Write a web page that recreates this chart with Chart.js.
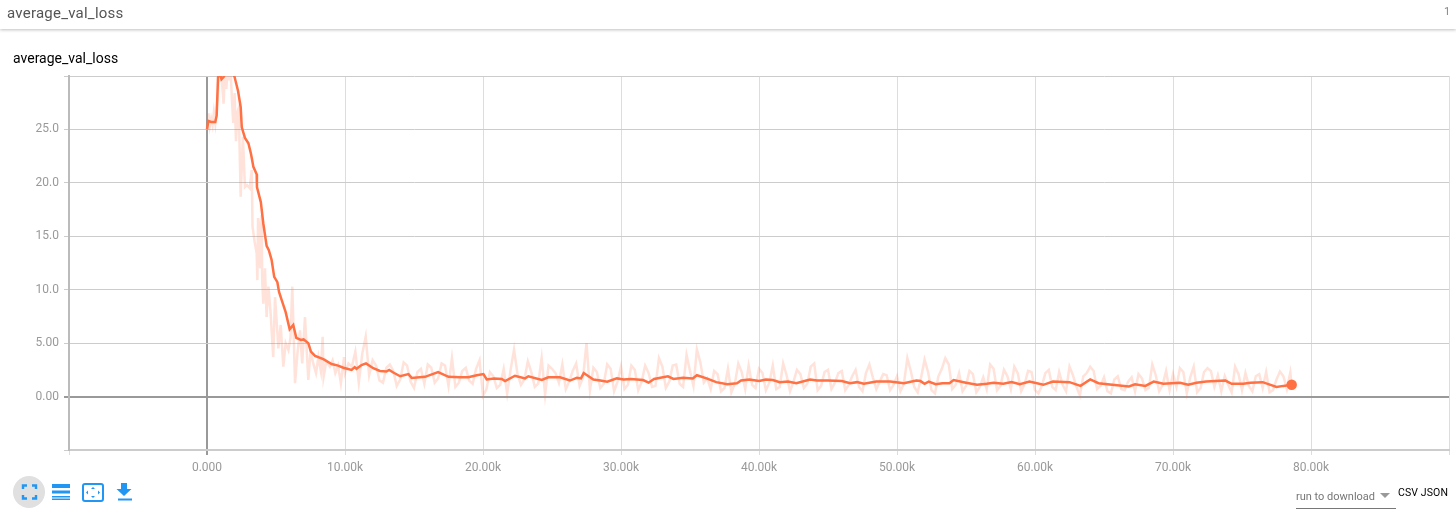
<!DOCTYPE html>
<html>
<head>
<meta charset="utf-8">
<title>average_val_loss</title>
<script src="https://cdn.jsdelivr.net/npm/chart.js@4/dist/chart.umd.min.js"></script>
<style>
  html, body { margin: 0; padding: 0; width: 1456px; height: 519px; overflow: hidden; background: #fff; font-family: Roboto, sans-serif; }
  #chart { position: absolute; left: 0; top: 0; }
  .txt { position: absolute; white-space: nowrap; }
  #bar { position: absolute; left: 0; top: 0; width: 1456px; height: 29px; background: #fff; box-shadow: 0 1px 3px rgba(0,0,0,.25); }
  #icons { position: absolute; left: 0; top: 470px; }
</style>
</head>
<body>
<canvas id="chart" width="1456" height="519"></canvas>
<div id="bar"></div>
<div class="txt" style="left:7px;top:4px;font-size:15px;color:#555;letter-spacing:.24px">average_val_loss</div>
<div class="txt" style="left:1444px;top:5px;font-size:11px;color:#888">1</div>
<div class="txt" style="left:13px;top:50px;font-size:14px;color:#000">average_val_loss</div>
<svg id="icons" width="140" height="45" viewBox="0 470 140 45">
  <circle cx="29" cy="492" r="16" fill="#e0e0e0"/>
  <path d="M23 489v-3.500h4M32 485.500h4v3.500M36 495v3.500h-4M27 498.500h-4v-3.500" fill="none" stroke="#2196f3" stroke-width="2.400"/>
  <path d="M52 484h18v4h-18zM52 490.500h18v3h-18zM52 496h18v1.500h-18zM52 498.500h18v1.500h-18z" fill="#2196f3"/>
  <rect x="83" y="484" width="20" height="17" rx="2" fill="none" stroke="#2196f3" stroke-width="2"/>
  <path d="M93 487l2 2h-4zM93 498l2-2h-4zM86 492.500l2-2v4zM100 492.500l-2-2v4z" fill="#2196f3"/>
  <path d="M121 483h6v6h4.500l-7.500 7-7.500-7h4.500zM118 498.500h14v2h-14z" fill="#2196f3"/>
</svg>
<div class="txt" style="left:1296px;top:490px;font-size:11px;color:#777">run to download</div>
<svg style="position:absolute;left:1379px;top:492px" width="12" height="8"><path d="M1 1h10l-5 5z" fill="#999"/></svg>
<div style="position:absolute;left:1296px;top:508px;width:100px;height:1px;background:#777"></div>
<div class="txt" style="left:1398px;top:486px;font-size:10.500px;color:#000;letter-spacing:.12px">CSV JSON</div>
<script>
// steps are in thousands
const rawSteps = [
  0,0.1,0.2,0.3,0.4,0.5,0.6,0.7,0.8,0.9,1.0,1.1,1.2,1.3,1.4,1.5,1.6,1.7,1.8,1.9,2.0,2.1,2.2,2.3,2.44,2.6,2.75,2.9,3.1,3.24,3.3,3.45,3.6,3.65,3.7,3.8,3.85,3.96,4.0,4.08,4.2,4.32,4.45,4.6,4.8,4.93,5.05,5.17,5.34,5.53,5.7,5.9,6.05,6.18,6.38,6.55,6.74,6.9,7.1,7.34,7.5,7.7,7.9,8.07,8.25,8.38,8.45,8.65,8.9,9.1,9.3,9.5,9.7,9.93,
  10,10.25,10.5,10.75,11,11.25,11.5,11.75,12,12.25,12.5,12.75,
  13,13.25,13.5,13.75,14,14.25,14.5,14.75,15,15.25,15.5,15.75,
  16,16.25,16.5,16.75,17,17.25,17.5,17.75,18,18.25,18.5,18.75,
  19,19.25,19.5,19.75,20,20.25,20.5,20.75,21,21.25,21.5,21.75,
  22,22.25,22.5,22.75,23,23.25,23.5,23.75,24,24.25,24.5,24.75,
  25,25.25,25.5,25.75,26,26.25,26.5,26.75,27,27.25,27.5,27.75,
  28,28.25,28.5,28.75,29,29.25,29.5,29.75,30,30.25,30.5,30.75,
  31,31.25,31.5,31.75,32,32.25,32.5,32.75,33,33.25,33.5,33.75,
  34,34.25,34.5,34.75,35,35.25,35.5,35.75,36,36.25,36.5,36.75,
  37,37.25,37.5,37.75,38,38.25,38.5,38.75,39,39.25,39.5,39.75,
  40,40.25,40.5,40.75,41,41.25,41.5,41.75,42,42.25,42.5,42.75,
  43,43.25,43.5,43.75,44,44.25,44.5,44.75,45,45.25,45.5,45.75,
  46,46.25,46.5,46.75,47,47.25,47.5,47.75,48,48.25,48.5,48.75,
  49,49.25,49.5,49.75,50,50.25,50.5,50.75,51,51.25,51.5,51.75,
  52,52.25,52.5,52.75,53,53.25,53.5,53.75,54,54.25,54.5,54.75,
  55,55.25,55.5,55.75,56,56.25,56.5,56.75,57,57.25,57.5,57.75,
  58,58.25,58.5,58.75,59,59.25,59.5,59.75,60,60.25,60.5,60.75,
  61,61.25,61.5,61.75,62,62.25,62.5,62.75,63,63.25,63.5,63.75,
  64,64.25,64.5,64.75,65,65.25,65.5,65.75,66,66.25,66.5,66.75,
  67,67.25,67.5,67.75,68,68.25,68.5,68.75,69,69.25,69.5,69.75,
  70,70.25,70.5,70.75,71,71.25,71.5,71.75,72,72.25,72.5,72.75,
  73,73.25,73.5,73.75,74,74.25,74.5,74.75,75,75.25,75.5,75.75,
  76,76.25,76.5,76.75,77,77.25,77.5,77.75,78,78.25,78.5,78.6
];
const rawValues = [
  25,26.5,25.3,26.0,25.4,26.6,25.6,27.0,28.5,31,30.5,29.2,27.4,30.4,28.8,31,29.6,30.8,28,25.6,28.4,23.9,26.6,27,18.7,24.3,19.6,19.8,19.5,21.2,15.9,14.5,13.4,10.9,16.7,15.9,12,17,10.9,8.7,12,7.45,10.3,8,3.7,9.3,7,4.5,6.7,2.8,5,4.35,5.5,10.3,1.25,4,6.2,3.1,7.45,1.55,4.2,3.1,2.2,3.7,2.4,5.6,1.85,3.3,2.8,3.4,2.2,2.9,1.25,3.7,
  2.2,3.1,2.8,4.2,1.3,4.0,5.6,2.0,3.4,2.9,1.5,1.3,
  2.7,3.0,2.4,1.0,1.6,3.2,2.9,1.4,0.8,2.3,2.6,1.2,
  3.0,2.7,1.3,1.7,3.1,2.9,1.0,3.6,0.9,1.3,2.4,2.7,
  1.5,1.2,2.6,3.4,0.1,0.7,2.3,1.9,0.8,1.1,2.6,0.3,
  2.5,4.4,2.1,1.1,1.6,3.3,2.3,0.9,1.2,3.6,0.2,2.9,
  2.6,2.2,1.3,3.0,0.7,1.4,2.4,3.1,1.0,1.8,5.0,0.6,
  2.7,2.3,0.8,1.2,3.0,2.6,0.5,1.4,2.8,0.7,1.1,2.9,
  2.5,0.6,1.4,2.9,2.2,0.9,1.0,3.6,2.8,0.8,1.4,2.9,
  3.0,1.2,0.9,3.9,2.4,1.0,4.4,3.2,1.3,1.7,0.7,2.4,
  2.1,0.5,0.8,2.6,0.4,1.2,3.1,2.3,0.7,2.9,1.1,0.8,
  2.6,2.2,0.6,1.3,2.9,0.7,0.9,3.1,2.0,0.5,1.4,2.5,
  2.1,0.8,1.2,2.8,3.1,0.6,1.0,2.3,2.5,0.7,1.3,2.2,
  2.4,0.6,1.1,1.9,2.5,0.9,0.5,2.2,3.0,1.8,0.7,1.4,
  2.1,2.0,0.6,1.1,1.9,0.5,1.2,3.6,2.4,0.9,0.4,1.8,
  3.45,2.3,0.6,0.3,1.9,2.6,3.6,3.0,0.7,1.1,2.2,0.5,
  1.0,2.4,2.1,0.4,0.9,1.8,0.7,3.0,2.6,0.6,1.0,2.5,
  1.9,0.7,2.8,2.2,0.5,1.2,2.4,2.3,0.6,0.3,1.0,2.2,
  2.5,0.9,0.6,2.3,1.1,0.5,2.8,2.0,0.9,0.1,1.9,2.2,
  2.8,2.4,0.7,1.0,1.8,0.5,0.3,1.6,1.9,0.7,0.6,1.4,
  1.8,0.5,2.1,1.7,0.6,0.8,3.0,2.0,0.5,1.1,2.4,0.6,
  2.1,0.9,2.65,2.3,0.3,1.8,2.8,0.4,0.8,2.3,2.65,2.4,
  0.9,2.0,0.5,1.9,1.1,0.4,2.8,2.1,0.6,2.2,1.0,0.5,
  1.9,2.1,0.8,2.3,0.4,0.6,1.6,2.35,1.9,0.7,2.25,1.1
];
const smoothSteps = [
  0,0.1,0.3,0.6,0.7,0.8,0.95,1.05,1.2,1.4,1.9,2.0,2.25,2.44,2.52,2.75,3.0,3.19,3.36,3.6,3.62,3.9,4.08,4.32,4.48,4.68,4.87,5.1,5.22,5.42,5.7,5.99,6.25,6.47,6.8,7.0,7.34,7.53,7.83,8.43,9.03,9.5,9.88,10.48,10.7,10.83,11.2,11.52,12.05,12.53,13.0,13.2,13.5,14.0,14.6,14.83,15.8,16.75,17.5,18.3,18.93,19.55,20.03,20.27,20.8,21.36,21.6,22.32,23.05,23.29,24.26,24.73,25.58,26.3,26.8,27.1,27.3,28,28.5,29,29.7,30.2,30.7,31.6,32,32.4,33.4,33.8,34.5,35.2,35.5,36.2,36.9,37.7,38.4,38.7,39.3,40,40.5,41,41.5,42.1,42.7,43.7,44.2,45,46,46.6,47.1,47.6,48.5,49.5,50.5,51.4,51.7,52,52.3,52.8,53.3,53.8,54.1,55,55.8,56.5,57,57.7,58.3,58.9,59.6,60.6,61.3,62.5,63.3,64,64.6,65.6,66.8,67.25,68,68.6,69.3,70.5,71.1,71.7,72.4,73.8,74.25,75.1,75.6,76.5,77.5,78,78.6
];
const smoothValues = [
  25,25.8,25.7,25.7,26.3,29.9,30.2,29.7,29.9,30.5,30.2,29.9,28.6,27.1,25.2,24.2,23.7,22.7,21.5,20.8,19.6,18.2,16.2,14.1,13.7,12.8,11.2,10.7,9.8,9.0,7.9,6.3,6.7,5.5,5.3,5.35,5.0,4.2,3.8,3.5,3.05,2.9,2.7,2.5,2.75,2.6,2.95,3.1,2.65,2.4,2.35,2.5,2.25,1.9,2.1,1.75,1.85,2.3,1.85,1.8,1.8,2.0,2.1,1.6,1.7,1.65,1.45,1.95,1.7,1.9,1.55,1.8,1.8,1.5,1.75,1.7,2.2,1.6,1.5,1.4,1.7,1.6,1.65,1.55,1.3,1.65,1.9,1.65,1.75,1.7,2.0,1.7,1.35,1.15,1.25,1.5,1.6,1.45,1.6,1.55,1.35,1.4,1.25,1.6,1.5,1.5,1.45,1.25,1.35,1.2,1.4,1.4,1.25,1.5,1.45,1.2,1.4,1.15,1.25,1.25,1.55,1.3,1.1,1.2,1.3,1.2,1.35,1.15,1.4,1.1,1.4,1.35,1.0,1.6,1.25,1.1,0.95,1.15,1.0,1.4,1.2,1.3,1.1,1.3,1.4,1.5,1.2,1.2,1.3,1.35,0.9,1.0,1.1
];
const xTicks = [-10,0,10,20,30,40,50,60,70,80,90];
const yTicks = [-5,0,5,10,15,20,25,30];

const zip = (xs, ys) => xs.map((x, i) => ({ x, y: ys[i] }));
const lastSmooth = smoothSteps.length - 1;

new Chart(document.getElementById('chart'), {
  type: 'line',
  data: {
    datasets: [{
      data: zip(smoothSteps, smoothValues),
      borderColor: '#ff7043',
      backgroundColor: '#ff7043',
      borderWidth: 2.5,
      tension: 0,
      pointRadius: ctx => ctx.dataIndex === lastSmooth ? 4 : 0
    }, {
      data: zip(rawSteps, rawValues),
      borderColor: 'rgba(255,112,67,0.2)',
      borderWidth: 2.5,
      tension: 0,
      pointRadius: 0
    }]
  },
  options: {
    responsive: false,
    animation: false,
    layout: { padding: { top: 76, right: 7, left: 0, bottom: 0 } },
    plugins: { legend: { display: false }, tooltip: { enabled: false } },
    scales: {
      x: {
        type: 'linear',
        min: -10,
        max: 90,
        afterBuildTicks: axis => { axis.ticks = xTicks.map(value => ({ value })); },
        afterFit: axis => { axis.height = 69; },
        border: { color: '#ccc', width: 2 },
        grid: {
          tickLength: 5,
          color: ctx => ctx.tick && ctx.tick.value === 0 ? '#999' : '#ddd',
          lineWidth: ctx => ctx.tick && ctx.tick.value === 0 ? 2 : 1
        },
        ticks: {
          autoSkip: false,
          maxRotation: 0,
          padding: 6,
          color: '#999',
          font: { family: 'Roboto', size: 12 },
          callback: v => v === 0 ? '0.000' : (v < 0 || v > 80 ? '' : v.toFixed(2) + 'k')
        }
      },
      y: {
        min: -5,
        max: 30,
        afterBuildTicks: axis => { axis.ticks = yTicks.map(value => ({ value })); },
        afterFit: axis => { axis.width = 69; },
        border: { color: '#bbb', width: 2 },
        grid: {
          tickLength: 5,
          color: ctx => ctx.tick && ctx.tick.value === 0 ? '#999' : '#ccc',
          lineWidth: ctx => ctx.tick && ctx.tick.value === 0 ? 2 : 1
        },
        ticks: {
          padding: 5,
          color: '#999',
          font: { family: 'Roboto', size: 12 },
          callback: v => {
            if (v <= -5 || v >= 30) return '';
            return v < 10 ? v.toFixed(2) : v.toFixed(1);
          }
        }
      }
    }
  }
});
</script>
</body>
</html>
